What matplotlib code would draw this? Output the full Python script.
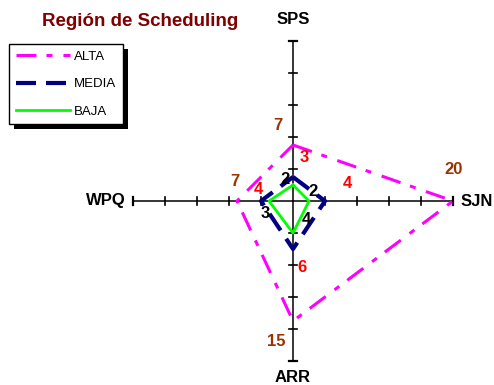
import matplotlib
matplotlib.use("Agg")
import matplotlib.pyplot as plt
from matplotlib.patches import Rectangle

plt.rcParams['font.family'] = ['Liberation Sans', 'DejaVu Sans']
plt.rcParams['lines.scale_dashes'] = False

# axis names, clockwise from the top
ejes = ['SPS', 'SJN', 'ARR', 'WPQ']
alta = [7, 20, 15, 7]
media = [3, 4, 6, 4]
baja = [2, 2, 4, 3]
series = ['ALTA', 'MEDIA', 'BAJA']
ticks = [4, 8, 12, 16, 20]
r_max = 20

# unit direction of each axis
dirs = [(0, 1), (1, 0), (0, -1), (-1, 0)]


def puntos(vals):
    xs = [d[0] * v for d, v in zip(dirs, vals)]
    ys = [d[1] * v for d, v in zip(dirs, vals)]
    return xs + xs[:1], ys + ys[:1]


fig = plt.figure(figsize=(4.94, 3.85), dpi=100)
ax = fig.add_axes([0, 0, 1, 1])
ax.set_xlim(-293 / 8, 201 / 8)
ax.set_ylim(-184 / 8, 201 / 8)
ax.set_aspect('equal')
ax.axis('off')

# axes with tick marks
for dx, dy in dirs:
    ax.plot([0, dx * r_max], [0, dy * r_max], color='black', lw=1.1, zorder=1)
    for t in ticks:
        w = 0.5
        ax.plot([dx * t - dy * w, dx * t + dy * w], [dy * t - dx * w, dy * t + dx * w],
                color='black', lw=1.6 if t == r_max else 1.2, zorder=1)

x, y = puntos(alta)
ax.plot(x, y, color='#ff00ff', lw=2.2, dashes=(14.4, 7.2, 4.3, 7.9), label=series[0], zorder=2)
x, y = puntos(media)
ax.plot(x, y, color='#000080', lw=3.0, dashes=(14.4, 7.2), label=series[1], zorder=3)
x, y = puntos(baja)
ax.plot(x, y, color='#00ff00', lw=2.0, label=series[2], zorder=4)

# value labels: offsets in pixels (right, down)
off_alta = [(-15, -20), (1, -32), (-17, 20), (-2, -19)]
off_media = [(11, -19), (22, -17), (9, 18), (-3, -11)]
off_baja = [(-8, -6), (4, -9), (13, -13), (-4, 13)]
for vals, offs, col in [(alta, off_alta, '#993300'), (media, off_media, '#ff0000'),
                        (baja, off_baja, 'black')]:
    for (dx, dy), v, (ox, oy) in zip(dirs, vals, offs):
        ax.annotate(str(v), xy=(dx * v, dy * v), xytext=(ox * 0.72, -oy * 0.72),
                    textcoords='offset points', ha='center', va='center',
                    fontsize=12, fontweight='bold', color=col, zorder=6)

# axis names
pos_nombres = [(0, 181 / 8), (184 / 8, 0), (0, -177 / 8), (-187 / 8, 0)]
for nombre, (px, py) in zip(ejes, pos_nombres):
    ax.text(px, py, nombre, ha='center', va='center', fontsize=12, fontweight='bold')

fig.text(140.5 / 494, 1 - 22 / 385, 'Región de Scheduling', ha='center', va='center',
         fontsize=13.5, fontweight='bold', color='#800000')

leg = ax.legend(loc='upper left', bbox_to_anchor=(9 / 494, 1 - 44 / 385),
                bbox_transform=fig.transFigure, borderaxespad=0, fancybox=False,
                edgecolor='black', framealpha=1, fontsize=9.5, handlelength=4.1,
                handletextpad=0.3, labelspacing=1.15, borderpad=0.5)
leg.get_frame().set_linewidth(1.0)
leg.set_zorder(10)

# solid black drop shadow behind the legend box
fig.canvas.draw()
bb = leg.get_window_extent()
ax.add_patch(Rectangle((bb.x0 + 5, bb.y0 - 5), bb.width, bb.height, transform=None,
                       facecolor='black', edgecolor='none', zorder=9))

fig.savefig('out.png', dpi=100)
